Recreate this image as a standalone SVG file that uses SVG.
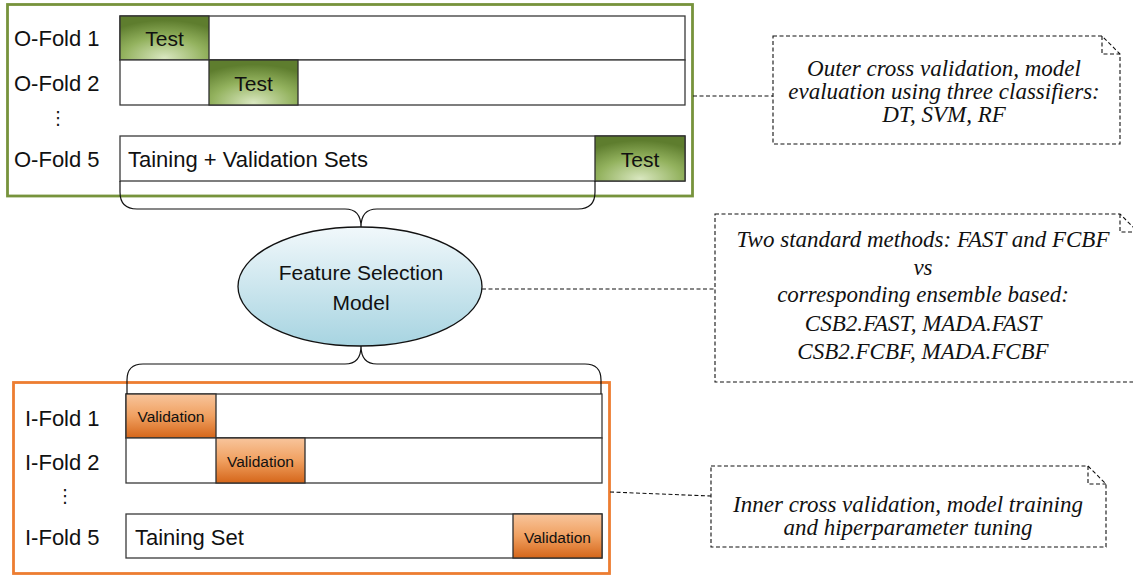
<svg xmlns="http://www.w3.org/2000/svg" width="1133" height="578" viewBox="0 0 1133 578">
  <style>
    .lbl { font-family: "Liberation Sans", Arial, sans-serif; font-size: 22px; fill: #111; }
    .cell { font-family: "Liberation Sans", Arial, sans-serif; font-size: 21px; fill: #111; text-anchor: middle; }
    .vcell { font-family: "Liberation Sans", Arial, sans-serif; font-size: 15.5px; fill: #111; text-anchor: middle; }
    .note { font-family: "Liberation Serif", "Times New Roman", serif; font-style: italic; font-size: 23px; fill: #111; text-anchor: middle; }
    .dots { font-family: "DejaVu Sans", sans-serif; font-size: 18px; fill: #111; text-anchor: middle; }
    .bar { fill: #ffffff; stroke: #3a3a3a; stroke-width: 1.3; }
    .test { fill: url(#gTest); stroke: #2f2f2f; stroke-width: 1.3; }
    .val { fill: url(#gVal); stroke: #2f2f2f; stroke-width: 1.3; }
    .callout { fill: #ffffff; stroke: #111; stroke-width: 1.1; stroke-dasharray: 4 2.5; }
    .dash { fill: none; stroke: #111; stroke-width: 1.1; stroke-dasharray: 4 2.5; }
    .brace { fill: none; stroke: #111; stroke-width: 1.2; }
  </style>
  <defs>
    <radialGradient id="gTest" cx="50%" cy="95%" r="85%">
      <stop offset="0" stop-color="#d9e7c0"/>
      <stop offset="0.55" stop-color="#93b25e"/>
      <stop offset="1" stop-color="#5e7d2e"/>
    </radialGradient>
    <linearGradient id="gVal" x1="0" y1="0" x2="0" y2="1">
      <stop offset="0" stop-color="#f8c59c"/>
      <stop offset="0.5" stop-color="#f0a060"/>
      <stop offset="1" stop-color="#d5661a"/>
    </linearGradient>
    <linearGradient id="gEll" x1="0" y1="0" x2="0" y2="1">
      <stop offset="0" stop-color="#f1f8fb"/>
      <stop offset="1" stop-color="#a7d4e1"/>
    </linearGradient>
  </defs>

  <!-- Outer cross-validation block -->
  <g id="outer-cv">
    <rect x="7.5" y="4.5" width="685" height="191.5" fill="none" stroke="#77933c" stroke-width="2.8"/>
    <g id="o-fold-1">
      <rect class="bar" x="120" y="16" width="565" height="44"/>
      <rect class="test" x="120" y="16" width="89" height="44"/>
      <text class="cell" x="164.5" y="45.5">Test</text>
      <text class="lbl" x="14" y="46">O-Fold 1</text>
    </g>
    <g id="o-fold-2">
      <rect class="bar" x="120" y="60" width="565" height="45"/>
      <rect class="test" x="209" y="60" width="89" height="45"/>
      <text class="cell" x="253.5" y="90.5">Test</text>
      <text class="lbl" x="14" y="91">O-Fold 2</text>
    </g>
    <text class="dots" x="58" y="124">⋮</text>
    <g id="o-fold-5">
      <rect class="bar" x="120" y="136" width="565" height="45"/>
      <rect class="test" x="595" y="136" width="90" height="45"/>
      <text class="cell" x="640" y="166.5">Test</text>
      <text class="lbl" x="128" y="166.5">Taining + Validation Sets</text>
      <text class="lbl" x="14" y="167">O-Fold 5</text>
    </g>
  </g>

  <!-- Feature selection model -->
  <g id="feature-selection">
    <ellipse cx="360" cy="286.5" rx="122" ry="59.5" fill="url(#gEll)" stroke="#111" stroke-width="1.3"/>
    <text class="cell" x="361" y="280" font-size="23.5">Feature Selection</text>
    <text class="cell" x="361" y="310" font-size="23.5">Model</text>
  </g>

  <!-- Inner cross-validation block -->
  <g id="inner-cv">
    <rect x="13.5" y="382.5" width="596" height="191" fill="none" stroke="#ed7d31" stroke-width="2.8"/>
    <g id="i-fold-1">
      <rect class="bar" x="126" y="394" width="476" height="44"/>
      <rect class="val" x="126" y="394" width="90" height="44"/>
      <text class="vcell" x="171" y="421.5">Validation</text>
      <text class="lbl" x="25" y="425.5">I-Fold 1</text>
    </g>
    <g id="i-fold-2">
      <rect class="bar" x="126" y="438" width="476" height="45"/>
      <rect class="val" x="216" y="438" width="89" height="45"/>
      <text class="vcell" x="260.5" y="466.5">Validation</text>
      <text class="lbl" x="25" y="469.5">I-Fold 2</text>
    </g>
    <text class="dots" x="65" y="502">⋮</text>
    <g id="i-fold-5">
      <rect class="bar" x="126" y="514" width="476" height="44"/>
      <rect class="val" x="513" y="514" width="89" height="44"/>
      <text class="vcell" x="557.5" y="542.5">Validation</text>
      <text class="lbl" x="135" y="544.5">Taining Set</text>
      <text class="lbl" x="25" y="544.5">I-Fold 5</text>
    </g>
  </g>

  <!-- Callout notes -->
  <g id="note-outer">
    <path class="callout" d="M773,36 H1102 L1120,54 V144 H773 Z"/>
    <path class="dash" d="M1102,36 V54 H1120"/>
    <text class="note" x="944" y="76">Outer cross validation, model</text>
    <text class="note" x="944" y="99">evaluation using three classifiers:</text>
    <text class="note" x="944" y="122">DT, SVM, RF</text>
  </g>
  <g id="note-methods">
    <path class="callout" d="M715,214 H1120 L1138,232 V382 H715 Z"/>
    <path class="dash" d="M1120,214 V232 H1138"/>
    <text class="note" x="923" y="247">Two standard methods: FAST and FCBF</text>
    <text class="note" x="923" y="275">vs</text>
    <text class="note" x="923" y="302">corresponding ensemble based:</text>
    <text class="note" x="923" y="331">CSB2.FAST, MADA.FAST</text>
    <text class="note" x="923" y="359">CSB2.FCBF, MADA.FCBF</text>
  </g>
  <g id="note-inner">
    <path class="callout" d="M711,466 H1088 L1106,484 V547 H711 Z"/>
    <path class="dash" d="M1088,466 V484 H1106"/>
    <text class="note" x="908" y="512">Inner cross validation, model training</text>
    <text class="note" x="908" y="535">and hiperparameter tuning</text>
  </g>

  <!-- Connectors: braces and dashed leader lines -->
  <g id="connectors">
    <path class="brace" d="M120,181 V192 Q120,209 137,209 H345 Q361,209 361,227 Q361,209 377,209 H578 Q595,209 595,192 V181"/>
    <path class="brace" d="M361,346 Q361,364 345,364 H143 Q127,364 127,380 V394 M361,346 Q361,364 377,364 H585 Q601,364 601,380 V394"/>
    <path class="dash" d="M693,96 H773"/>
    <path class="dash" d="M482,289 H715"/>
    <path class="dash" d="M610,492 L711,496"/>
  </g>
</svg>
